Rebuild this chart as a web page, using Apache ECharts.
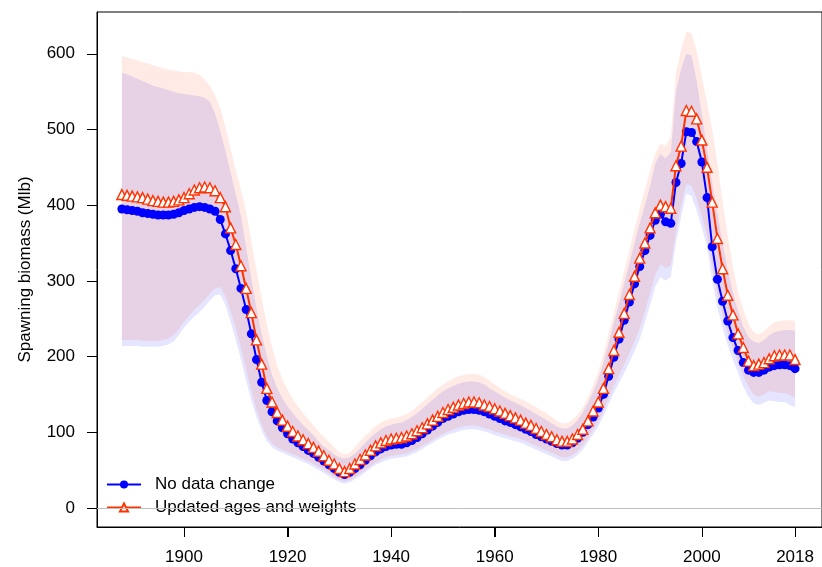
<!DOCTYPE html>
<html>
<head>
<meta charset="utf-8">
<script src="https://cdn.jsdelivr.net/npm/echarts@6/dist/echarts.min.js"></script>
<style>html,body{margin:0;padding:0;background:#fff}#chart{width:822px;height:567px}</style>
</head>
<body>
<div id="chart"></div>
<script>
const firstYear = 1888;
const xTicks = [1900, 1920, 1940, 1960, 1980, 2000, 2018];
const yTicks = [0, 100, 200, 300, 400, 500, 600];
const seriesNames = ['No data change', 'Updated ages and weights'];

const biomassBase = [
 395, 394, 393, 392, 390, 389, 388, 387, 387, 387,
 388, 390, 393, 395, 397, 398, 397, 395, 392, 381,
 362, 340, 316, 290, 262, 230, 196, 166, 142, 127,
 115, 106, 98, 91, 86, 81, 76, 72, 67, 62,
 57, 52, 47, 44, 47, 52, 57, 63, 69, 74,
 78, 81, 83, 84, 84, 86, 89, 93, 98, 103,
 108, 113, 118, 121, 124, 127, 129, 130, 130, 129,
 127, 124, 121, 118, 115, 113, 110, 107, 104, 101,
 97, 94, 91, 88, 85, 83, 83, 86, 92, 100,
 110, 120, 132, 150, 174, 199, 223, 248, 272, 296,
 319, 340, 360, 380, 388, 378, 376, 430, 455, 497,
 496, 484, 457, 410, 345, 302, 273, 247, 225, 208,
 192, 182, 179, 179, 182, 186, 188, 189, 189, 188,
 184
];
const biomassUpdated = [
 414, 413, 412, 411, 410, 408, 406, 405, 404, 404,
 405, 407, 410, 415, 420, 423, 424, 423, 419, 410,
 398, 370, 348, 320, 290, 258, 222, 190, 158, 140,
 126, 116, 108, 101, 95, 90, 85, 80, 75, 69,
 63, 58, 52, 48, 52, 58, 64, 70, 76, 82,
 86, 89, 91, 92, 93, 95, 98, 102, 106, 111,
 116, 121, 126, 130, 133, 136, 138, 140, 140, 139,
 136, 134, 131, 128, 125, 122, 119, 116, 112, 109,
 105, 101, 97, 94, 90, 88, 88, 91, 97, 104,
 115, 128, 140, 158, 184, 208, 232, 257, 282, 306,
 330, 350, 370, 390, 400, 398, 396, 452, 478, 525,
 524, 514, 486, 450, 404, 356, 316, 281, 255, 230,
 212, 194, 188, 190, 192, 197, 201, 202, 202, 202,
 196
];
const baseHigh = [
 575, 573, 570, 567, 564, 561, 558, 556, 554, 552,
 550, 548, 547, 546, 545, 544, 542, 537, 521, 498,
 472, 443, 415, 386, 345, 303, 264, 230, 201, 176,
 158, 145, 134, 125, 117, 110, 103, 96, 88, 81,
 76, 71, 67, 65, 67, 72, 79, 86, 93, 99,
 104, 108, 110, 112, 113, 116, 120, 125, 131, 137,
 143, 149, 154, 158, 161, 164, 166, 167, 167, 166,
 163, 158, 154, 150, 146, 142, 139, 136, 132, 128,
 124, 120, 116, 112, 108, 105, 105, 109, 116, 126,
 139, 153, 170, 192, 218, 245, 270, 297, 323, 350,
 376, 400, 425, 455, 468, 462, 470, 550, 580, 600,
 598, 565, 520, 475, 430, 390, 350, 315, 285, 260,
 240, 226, 220, 218, 222, 228, 232, 234, 235, 235,
 234
];
const baseLow = [
 214, 214, 214, 214, 213, 213, 213, 213, 214, 216,
 220, 228, 238, 246, 253, 259, 266, 274, 281, 282,
 268, 246, 222, 196, 168, 142, 120, 102, 88, 80,
 76, 73, 70, 67, 64, 61, 58, 54, 50, 46,
 42, 38, 34, 32, 34, 38, 42, 47, 52, 57,
 60, 63, 65, 66, 67, 68, 71, 74, 78, 82,
 86, 90, 94, 97, 99, 101, 103, 104, 104, 103,
 101, 99, 96, 94, 92, 90, 88, 86, 83, 80,
 77, 74, 71, 68, 65, 62, 62, 65, 70, 77,
 87, 97, 108, 121, 137, 152, 165, 178, 192, 207,
 223, 245, 268, 292, 305, 300, 305, 350, 385, 415,
 412, 393, 370, 345, 300, 265, 238, 215, 196, 178,
 160, 147, 138, 136, 139, 142, 141, 140, 140, 136,
 133
];
const updHigh = [
 597, 595, 593, 591, 589, 587, 585, 583, 581, 579,
 578, 577, 576, 576, 575, 572, 566, 558, 545, 528,
 503, 474, 446, 420, 392, 352, 314, 277, 243, 213,
 188, 170, 156, 144, 134, 125, 117, 109, 101, 94,
 87, 80, 74, 71, 73, 80, 88, 95, 102, 108,
 113, 116, 118, 119, 121, 124, 128, 134, 140, 146,
 152, 158, 163, 167, 171, 174, 176, 177, 177, 176,
 173, 168, 163, 158, 154, 150, 147, 144, 141, 137,
 133, 129, 125, 120, 115, 112, 112, 116, 123, 133,
 146, 162, 180, 203, 230, 257, 285, 313, 340, 368,
 395, 420, 445, 468, 481, 478, 490, 575, 605, 629,
 627, 603, 570, 535, 500, 455, 405, 360, 318, 285,
 262, 243, 232, 229, 233, 240, 245, 247, 248, 248,
 247
];
const updLow = [
 222, 222, 222, 222, 221, 221, 221, 221, 222, 224,
 228, 236, 246, 254, 262, 268, 275, 283, 290, 292,
 280, 260, 237, 211, 183, 155, 130, 110, 94, 85,
 80, 77, 74, 71, 68, 65, 62, 58, 54, 50,
 45, 41, 37, 35, 37, 41, 45, 50, 55, 60,
 64, 67, 69, 70, 71, 72, 75, 78, 82, 86,
 90, 94, 98, 101, 104, 106, 108, 109, 109, 108,
 106, 104, 101, 99, 97, 95, 93, 91, 88, 85,
 82, 79, 76, 73, 70, 67, 67, 70, 75, 82,
 92, 103, 114, 128, 145, 161, 175, 189, 204, 220,
 237, 260, 284, 308, 322, 317, 320, 365, 400, 428,
 426, 408, 385, 360, 318, 282, 254, 230, 210, 192,
 174, 160, 150, 147, 150, 154, 153, 152, 152, 149,
 146
];

const years = biomassBase.map((_, i) => firstYear + i);
const pairs = arr => years.map((y, i) => [y, arr[i]]);

const FONT = '"Liberation Sans", Arial, sans-serif';
const BLUE = '#0000FF';
const RED = '#FF3300';
const X_MIN = 1883.2, X_MAX = 2023.2, Y_MIN = -25.2, Y_MAX = 655.2;

function bandSeries(name, lo, hi, fill, z) {
  return {
    name: name, type: 'custom', silent: true, z: z,
    data: years.map((y, i) => [y, lo[i], hi[i]]),
    encode: {x: 0, y: [1, 2]},
    renderItem: function (params, api) {
      if (params.dataIndex !== 0) return null;
      const pts = [];
      for (let i = 0; i < years.length; i++) pts.push(api.coord([years[i], hi[i]]));
      for (let i = years.length - 1; i >= 0; i--) pts.push(api.coord([years[i], lo[i]]));
      return {type: 'polygon', shape: {points: pts}, style: {fill: fill, stroke: null}};
    }
  };
}

// outward x-axis tick marks placed through the axis scale
const xTickSeries = {
  name: 'xTickMarks', type: 'custom', silent: true, clip: false, z: 6,
  data: xTicks.map(v => [v, Y_MIN]),
  encode: {x: 0, y: 1},
  renderItem: function (params, api) {
    const p = api.coord([api.value(0), Y_MIN]);
    const x = Math.round(p[0]) + 0.5;
    return {type: 'line', shape: {x1: x, y1: p[1], x2: x, y2: p[1] + 10}, style: {stroke: '#000', lineWidth: 1}};
  }
};

const chart = echarts.init(document.getElementById('chart'), null, {renderer: 'canvas'});

chart.setOption({
  animation: false,
  backgroundColor: '#fff',
  textStyle: {fontFamily: FONT},
  grid: {left: 97, top: 12, width: 734, height: 515, show: true, borderColor: '#000', borderWidth: 1, backgroundColor: 'transparent'},
  xAxis: {
    type: 'value', min: X_MIN, max: X_MAX,
    splitLine: {show: false}, axisLine: {show: true, onZero: false, lineStyle: {color: '#000', width: 1}},
    axisTick: {show: true, length: 10, customValues: xTicks, lineStyle: {color: '#000', width: 1}},
    axisLabel: {customValues: xTicks, margin: 22, fontSize: 17, color: '#000', fontFamily: FONT, formatter: v => String(v)}
  },
  yAxis: {
    type: 'value', min: Y_MIN, max: Y_MAX,
    name: 'Spawning biomass (Mlb)', nameLocation: 'middle', nameGap: 63,
    nameTextStyle: {fontSize: 17, color: '#000', fontFamily: FONT},
    splitLine: {show: false}, axisLine: {show: true, onZero: false, lineStyle: {color: '#000', width: 1}},
    axisTick: {show: true, length: 10, customValues: yTicks, lineStyle: {color: '#000', width: 1}},
    axisLabel: {customValues: yTicks, margin: 22, fontSize: 17, color: '#000', fontFamily: FONT, formatter: v => String(v)}
  },
  legend: {
    data: seriesNames, orient: 'vertical', left: 101, top: 471,
    itemWidth: 34, itemHeight: 10, itemGap: 6,
    textStyle: {fontSize: 17, color: '#000', fontFamily: FONT, lineHeight: 17, padding: [0, 0, 0, 9]}
  },
  series: [
    bandSeries('baseBand', baseLow, baseHigh, 'rgba(0,0,255,0.1)', 1),
    bandSeries('updBand', updLow, updHigh, 'rgba(255,51,0,0.1)', 1),
    {
      name: seriesNames[0], type: 'line', data: pairs(biomassBase), z: 3,
      symbol: 'circle', symbolSize: 9, showAllSymbol: true,
      lineStyle: {color: BLUE, width: 2}, itemStyle: {color: BLUE},
      markLine: {silent: true, symbol: 'none', label: {show: false}, lineStyle: {color: '#BEBEBE', width: 1, type: 'solid'}, data: [{yAxis: 0}]}
    },
    {
      name: seriesNames[1], type: 'line', data: pairs(biomassUpdated), z: 4,
      symbol: 'triangle', symbolSize: 10, showAllSymbol: true,
      lineStyle: {color: RED, width: 2}, itemStyle: {color: '#fff', borderColor: RED, borderWidth: 1.4}
    },
    xTickSeries
  ]
});
</script>
</body>
</html>
